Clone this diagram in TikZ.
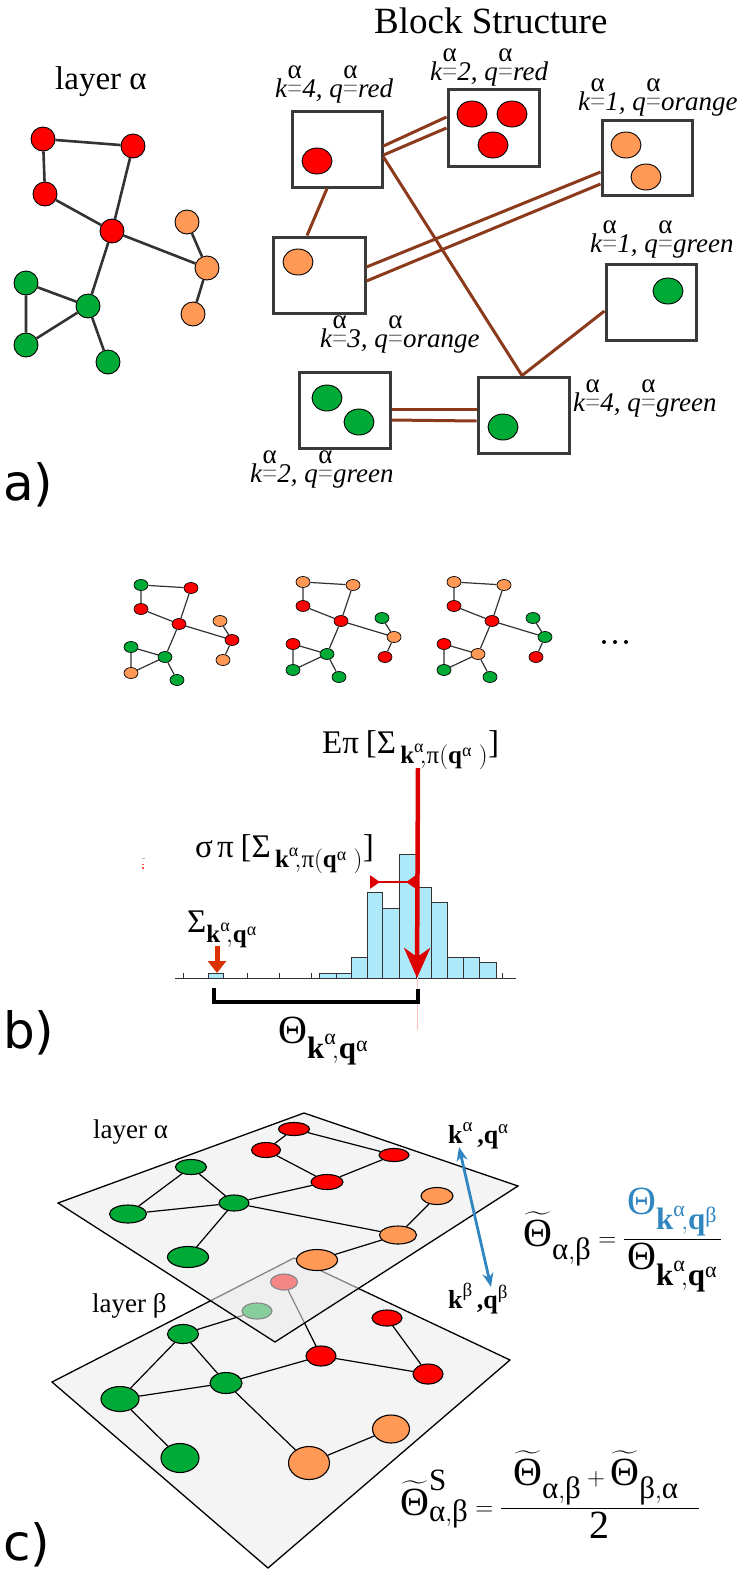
\documentclass[tikz,border=0pt]{standalone}
\usepackage{amsmath}
\usepackage{fontspec}
\setmainfont{Liberation Serif}
\setsansfont{DejaVu Sans}
\usetikzlibrary{shapes.geometric,arrows.meta,calc}
\DeclareMathSizes{33}{33}{25}{18}
\DeclareMathSizes{40}{40}{31}{22}
\DeclareMathSizes{26}{26}{19}{14}
\definecolor{nred}{RGB}{255,0,0}
\definecolor{norange}{RGB}{255,153,85}
\definecolor{ngreen}{RGB}{0,170,54}
\definecolor{edgegray}{RGB}{51,51,51}
\definecolor{brownedge}{RGB}{140,58,28}
\definecolor{boxgray}{RGB}{58,58,58}
\definecolor{barblue}{RGB}{174,233,250}
\definecolor{arrred}{RGB}{220,0,0}
\definecolor{sigred}{RGB}{220,50,0}
\definecolor{blueline}{RGB}{47,134,192}
\definecolor{planefill}{RGB}{244,244,244}
\definecolor{overlaygray}{RGB}{236,236,236}
\newcommand{\galpha}{\text{α}}
\newcommand{\gbeta}{\text{β}}
\newcommand{\gpi}{\text{π}}
\newcommand{\gTheta}{\text{Θ}}
\newcommand{\gSigma}{\text{Σ}}
\newcommand{\gsigma}{\text{σ}}
\newcommand{\bk}{\text{\bfseries k}}
\newcommand{\bq}{\text{\bfseries q}}
\newcommand{\stk}{\ooalign{\hfil\raisebox{0.7em}{\upshape α}\hfil\cr\textcolor{gray}{\upshape =}\cr}}
\tikzset{
 na/.style={circle,draw=black,line width=0.9,minimum size=24,inner sep=0},
 nb/.style={ellipse,draw=black,line width=0.7,minimum width=14,minimum height=11,inner sep=0},
 nbk/.style={ellipse,draw=black,line width=0.9,minimum width=30,minimum height=26,inner sep=0},
 pn/.style={ellipse,draw=black,line width=1.1,inner sep=0},
 fr/.style={fill=nred}, fo/.style={fill=norange}, fg/.style={fill=ngreen},
 ea/.style={draw=edgegray,line width=2.6},
 eb/.style={draw=edgegray,line width=1.2},
 ec/.style={draw=black,line width=1.2},
 blk/.style={draw=boxgray,line width=3,fill=white,inner sep=0},
 brn/.style={draw=brownedge,line width=3},
 lab/.style={font=\fontsize{27}{27}\selectfont\itshape,anchor=base west,inner sep=0},
 txt/.style={anchor=base west,inner sep=0},
 histbar/.style={fill=barblue,draw=edgegray,line width=1},
 planest/.style={fill=planefill,draw=black,line width=1.3},
 plabel/.style={font=\sffamily\fontsize{50}{50}\selectfont,anchor=base west,inner sep=0},
}
\begin{document}
\begin{tikzpicture}[x=1pt,y=-1pt]
\useasboundingbox (0,0) rectangle (747,1575);
\fill[white] (0,0) rectangle (747,1575);

%%%%%%%%%%%%%%%% part a
\node[txt,font=\fontsize{33}{33}\selectfont] (layA) at (55,89) {layer α};
\node[na,fr] (r1) at (43,139) {};
\node[na,fr] (r2) at (133,146) {};
\node[na,fr] (r3) at (45,194) {};
\node[na,fr] (r4) at (112,231) {};
\node[na,fo] (o1) at (187,222) {};
\node[na,fo] (o2) at (207,268) {};
\node[na,fo] (o3) at (193,314) {};
\node[na,fg] (g1) at (26,283) {};
\node[na,fg] (g2) at (88,306) {};
\node[na,fg] (g3) at (26,345) {};
\node[na,fg] (g4) at (108,362) {};
\draw[ea] (r1)--(r2) (r1)--(r3) (r3)--(r4) (r2)--(r4) (r4)--(o2) (o1)--(o2) (o2)--(o3)
 (r4)--(g2) (g1)--(g2) (g1)--(g3) (g3)--(g2) (g2)--(g4);

\node[txt,font=\fontsize{37}{37}\selectfont] (title) at (374,33) {Block Structure};
\node[blk,minimum width=90,minimum height=76] (bA) at (337,149) {};
\node[blk,minimum width=91,minimum height=77] (bB) at (493.5,127.5) {};
\node[blk,minimum width=90,minimum height=75] (bC) at (647,157.5) {};
\node[blk,minimum width=92,minimum height=76] (bD) at (319,275) {};
\node[blk,minimum width=90,minimum height=76] (bE) at (651,302) {};
\node[blk,minimum width=91,minimum height=76] (bF) at (344.5,410) {};
\node[blk,minimum width=91,minimum height=76] (bG) at (523.5,415) {};
\node[nbk,fr] (cA) at (317,161) {};
\node[nbk,fr] (cB1) at (472,114) {};
\node[nbk,fr] (cB2) at (512,114) {};
\node[nbk,fr] (cB3) at (493,145) {};
\node[nbk,fo] (cC1) at (626,145) {};
\node[nbk,fo] (cC2) at (646,177) {};
\node[nbk,fo] (cD) at (298,262) {};
\node[nbk,fg] (cE) at (668,291) {};
\node[nbk,fg] (cF1) at (327,398) {};
\node[nbk,fg] (cF2) at (359,422) {};
\node[nbk,fg] (cG) at (503,427) {};
\draw[brn] ($(bA.east)+(0,-3)$) -- ($(bB.west)+(0,-10.5)$);
\draw[brn] ($(bA.east)+(0,6)$) -- ($(bB.west)+(0,0.5)$);
\draw[brn] ($(bA.east)+(0,8)$) -- ($(bG.north)+(-1.5,0)$);
\draw[brn] ($(bA.south)+(-10,0)$) -- ($(bD.north)+(-12,0)$);
\draw[brn] ($(bD.east)+(0,-8)$) -- ($(bC.west)+(0,14.5)$);
\draw[brn] ($(bD.east)+(0,6)$) -- ($(bC.west)+(0,26.5)$);
\draw[brn] ($(bE.west)+(0,9)$) -- ($(bG.north)+(-1.5,0)$);
\draw[brn] ($(bF.east)+(0,-1)$) -- ($(bG.west)+(0,-6)$);
\draw[brn] ($(bF.east)+(0,10)$) -- ($(bG.west)+(0,6)$);
\node[lab] (lA) at (275,97) {k\stk4, q\stk red};
\node[lab] (lB) at (430,80) {k\stk2, q\stk red};
\node[lab] (lC) at (578,110) {k\stk1, q\stk orange};
\node[lab] (lE) at (590,252) {k\stk1, q\stk green};
\node[lab] (lD) at (320,347) {k\stk3, q\stk orange};
\node[lab] (lG) at (573,411) {k\stk4, q\stk green};
\node[lab] (lF) at (250,482) {k\stk2, q\stk green};
\node[plabel] (pa) at (3,500) {a)};

%%%%%%%%%%%%%%%% part b
% network 1
\node[nb,fg] (aR1) at (141,585) {};
\node[nb,fr] (aR2) at (191,588) {};
\node[nb,fr] (aR3) at (141,609) {};
\node[nb,fr] (aR4) at (179,624) {};
\node[nb,fo] (aO1) at (220,621) {};
\node[nb,fr] (aO2) at (232,640) {};
\node[nb,fo] (aO3) at (223,660) {};
\node[nb,fg] (aG1) at (131,647) {};
\node[nb,fg] (aG2) at (165,657) {};
\node[nb,fo] (aG3) at (131,673) {};
\node[nb,fg] (aG4) at (177,680) {};
\draw[eb] (aR1)--(aR2) (aR1)--(aR3) (aR3)--(aR4) (aR2)--(aR4) (aR4)--(aO2) (aO1)--(aO2) (aO2)--(aO3)
 (aR4)--(aG2) (aG1)--(aG2) (aG1)--(aG3) (aG3)--(aG2) (aG2)--(aG4);
% network 2
\begin{scope}[shift={(162,-3)}]
\node[nb,fo] (bR1) at (141,585) {};
\node[nb,fo] (bR2) at (191,588) {};
\node[nb,fr] (bR3) at (141,609) {};
\node[nb,fr] (bR4) at (179,624) {};
\node[nb,fg] (bO1) at (220,621) {};
\node[nb,fo] (bO2) at (232,640) {};
\node[nb,fr] (bO3) at (223,660) {};
\node[nb,fr] (bG1) at (131,647) {};
\node[nb,fg] (bG2) at (165,657) {};
\node[nb,fg] (bG3) at (131,673) {};
\node[nb,fg] (bG4) at (177,680) {};
\end{scope}
\draw[eb] (bR1)--(bR2) (bR1)--(bR3) (bR3)--(bR4) (bR2)--(bR4) (bR4)--(bO2) (bO1)--(bO2) (bO2)--(bO3)
 (bR4)--(bG2) (bG1)--(bG2) (bG1)--(bG3) (bG3)--(bG2) (bG2)--(bG4);
% network 3
\begin{scope}[shift={(313,-3)}]
\node[nb,fo] (cR1) at (141,585) {};
\node[nb,fo] (cR2) at (191,588) {};
\node[nb,fr] (cR3) at (141,609) {};
\node[nb,fr] (cR4) at (179,624) {};
\node[nb,fg] (cO1) at (220,621) {};
\node[nb,fg] (cO2) at (232,640) {};
\node[nb,fr] (cO3) at (223,660) {};
\node[nb,fr] (cG1) at (131,647) {};
\node[nb,fo] (cG2) at (165,657) {};
\node[nb,fg] (cG3) at (131,673) {};
\node[nb,fg] (cG4) at (177,680) {};
\end{scope}
\draw[eb] (cR1)--(cR2) (cR1)--(cR3) (cR3)--(cR4) (cR2)--(cR4) (cR4)--(cO2) (cO1)--(cO2) (cO2)--(cO3)
 (cR4)--(cG2) (cG1)--(cG2) (cG1)--(cG3) (cG3)--(cG2) (cG2)--(cG4);
\fill (604,642) circle (2pt) (615,642) circle (2pt) (626,642) circle (2pt);

% histogram
\draw[edgegray,line width=1] (175,978) -- (516,978);
\foreach \t in {183,215,247,279,311,342,374,406,438,470,502}
  \draw[edgegray,line width=1] (\t,978) -- (\t,973);
\foreach \a/\b/\h in {208/223/973,319/336/973,336/351/973,351/367/957,367/382/892,382/399/908,399/416/854,416/431/887,431/447/902,447/463/957,463/479/957,479/496/962}
  \draw[histbar] (\a,978) rectangle (\b,\h);
\draw[red!25,line width=0.8] (417,978) -- (417,1030);
\node[txt,font=\fontsize{33}{33}\selectfont] (elab) at (322,753)
  {$\text{E}\gpi\;\text{[}\gSigma_{\,\bk^{\galpha}\!,\gpi(\bq^{\galpha}\;)}\text{]}$};
\coordinate (etop) at (418,768);
\coordinate (ebot) at (417,978);
\draw[arrred,line width=4.5,-{Stealth[length=30pt,width=26pt,inset=9pt]}] (etop) -- (ebot);
\node[txt,font=\fontsize{33}{33}\selectfont] (slab) at (195,857)
  {$\gsigma\,\gpi\;\text{[}\gSigma_{\,\bk^{\galpha}\!,\gpi(\bq^{\galpha}\;)}\text{]}$};
\coordinate (sl) at (370,882);
\coordinate (sr) at (416,882);
\draw[arrred,line width=2.5,{Triangle[reversed,length=10pt,width=13pt]}-{Triangle[reversed,length=10pt,width=13pt]}] (sl) -- (sr);
\node[txt,font=\fontsize{33}{33}\selectfont] (sigl) at (187,932)
  {$\gSigma_{\bk^{\galpha}\!,\bq^{\galpha}}$};
\coordinate (st) at (217,946);
\coordinate (sb) at (217,973);
\draw[sigred,line width=5,-{Triangle[length=12pt,width=18pt]}] (st) -- (sb);
\draw[black,line width=4] (214,988) -- (214,1002) -- (418,1002) -- (418,989);
\node[txt,font=\fontsize{40}{40}\selectfont] (thl) at (278,1043)
  {$\gTheta_{\bk^{\galpha}\!,\bq^{\galpha}}$};
\fill[gray!60] (142,857.5) rectangle (144.5,858.5);
\fill[red!70] (142,863.5) rectangle (144,865);
\fill[red!70] (142,867) rectangle (144,868.5);
\node[plabel] (pb) at (3,1048) {b)};

%%%%%%%%%%%%%%%% part c
\draw[planest] (52,1382) -- (294,1258) -- (510,1360) -- (268,1568) -- cycle;
\node[pn,fr,minimum width=27,minimum height=16] (Rb0) at (284,1282) {};
\node[pn,fg,minimum width=30,minimum height=16] (Gb0) at (257,1311) {};
\node[pn,fg,minimum width=31,minimum height=19] (Gb1) at (183,1334) {};
\node[pn,fg,minimum width=32,minimum height=21] (Gb2) at (226,1383) {};
\node[pn,fg,minimum width=38,minimum height=25] (Gb3) at (120,1399) {};
\node[pn,fg,minimum width=38,minimum height=29] (Gb4) at (180,1458) {};
\node[pn,fr,minimum width=30,minimum height=16] (Rb1) at (387,1318) {};
\node[pn,fr,minimum width=30,minimum height=20] (Rb2) at (321,1356) {};
\node[pn,fr,minimum width=30,minimum height=20] (Rb3) at (428,1374) {};
\node[pn,fo,minimum width=37,minimum height=28] (Ob1) at (391,1429) {};
\node[pn,fo,minimum width=41,minimum height=33] (Ob2) at (309,1463) {};
\draw[ec] (Gb0)--(Gb1) (Gb1)--(Gb3) (Gb1)--(Gb2) (Gb3)--(Gb2) (Gb3)--(Gb4) (Gb2)--(Rb2)
 (Rb0)--(Rb2) (Rb2)--(Rb3) (Rb1)--(Rb3) (Gb2)--(Ob2) (Ob2)--(Ob1);
\fill[overlaygray,fill opacity=0.57] (58,1203) -- (304,1113) -- (518,1186) -- (275,1342) -- cycle;
\draw[black,line width=1.3] (58,1203) -- (304,1113) -- (518,1186) -- (275,1342) -- cycle;
\node[pn,fr,minimum width=31,minimum height=13] (Ra1) at (294,1129) {};
\node[pn,fr,minimum width=29,minimum height=15] (Ra2) at (266,1150) {};
\node[pn,fr,minimum width=30,minimum height=13] (Ra3) at (394,1155) {};
\node[pn,fr,minimum width=32,minimum height=15] (Ra4) at (327,1182) {};
\node[pn,fo,minimum width=32,minimum height=17] (Oa1) at (437,1196) {};
\node[pn,fo,minimum width=37,minimum height=18] (Oa2) at (398,1235) {};
\node[pn,fo,minimum width=41,minimum height=21] (Oa3) at (317,1260) {};
\node[pn,fg,minimum width=31,minimum height=15] (Ga1) at (191,1167) {};
\node[pn,fg,minimum width=30,minimum height=16] (Ga2) at (234,1203) {};
\node[pn,fg,minimum width=37,minimum height=18] (Ga3) at (128,1214) {};
\node[pn,fg,minimum width=41,minimum height=21] (Ga4) at (188,1257) {};
\draw[ec] (Ra1)--(Ra2) (Ra1)--(Ra3) (Ra2)--(Ra4) (Ra3)--(Ra4) (Ra4)--(Ga2) (Ga1)--(Ga2)
 (Ga1)--(Ga3) (Ga3)--(Ga2) (Ga2)--(Ga4) (Ga2)--(Oa2) (Oa1)--(Oa2) (Oa2)--(Oa3);
\node[txt,font=\fontsize{27}{27}\selectfont] (layca) at (93,1138) {layer α};
\node[txt,font=\fontsize{27}{27}\selectfont] (laycb) at (92,1312) {layer β};
\node[txt,font=\fontsize{26}{26}\selectfont] (ka) at (448,1143)
  {$\bk^{\galpha}\,\text{\bfseries ,}\bq^{\galpha}$};
\node[txt,font=\fontsize{26}{26}\selectfont] (kb) at (448,1308)
  {$\bk^{\gbeta}\,\text{\bfseries ,}\bq^{\gbeta}$};
\coordinate (ua) at (459,1147);
\coordinate (ub) at (491,1287);
\draw[blueline,line width=2.8,{Stealth[length=14pt,width=11pt]}-{Stealth[length=14pt,width=11pt]}] (ua) -- (ub);
\node[txt,font=\fontsize{40}{40}\selectfont] (f1) at (523,1246)
  {$\widetilde{\gTheta}_{\galpha,\gbeta}=\dfrac{\hspace{3pt}\textcolor{blueline}{\gTheta_{\bk^{\galpha}\!,\bq^{\gbeta}}}\hspace{3pt}}{\gTheta_{\bk^{\galpha}\!,\bq^{\galpha}}}$};
\node[txt,font=\fontsize{40}{40}\selectfont] (f2) at (400,1515)
  {$\widetilde{\gTheta}^{\text{S}}_{\galpha,\gbeta}=\dfrac{\hspace{12pt}\widetilde{\gTheta}_{\galpha,\gbeta}+\widetilde{\gTheta}_{\gbeta,\galpha}\hspace{20pt}}{\text{2}}$};
\node[plabel] (pc) at (3,1560) {c)};
\end{tikzpicture}
\end{document}
